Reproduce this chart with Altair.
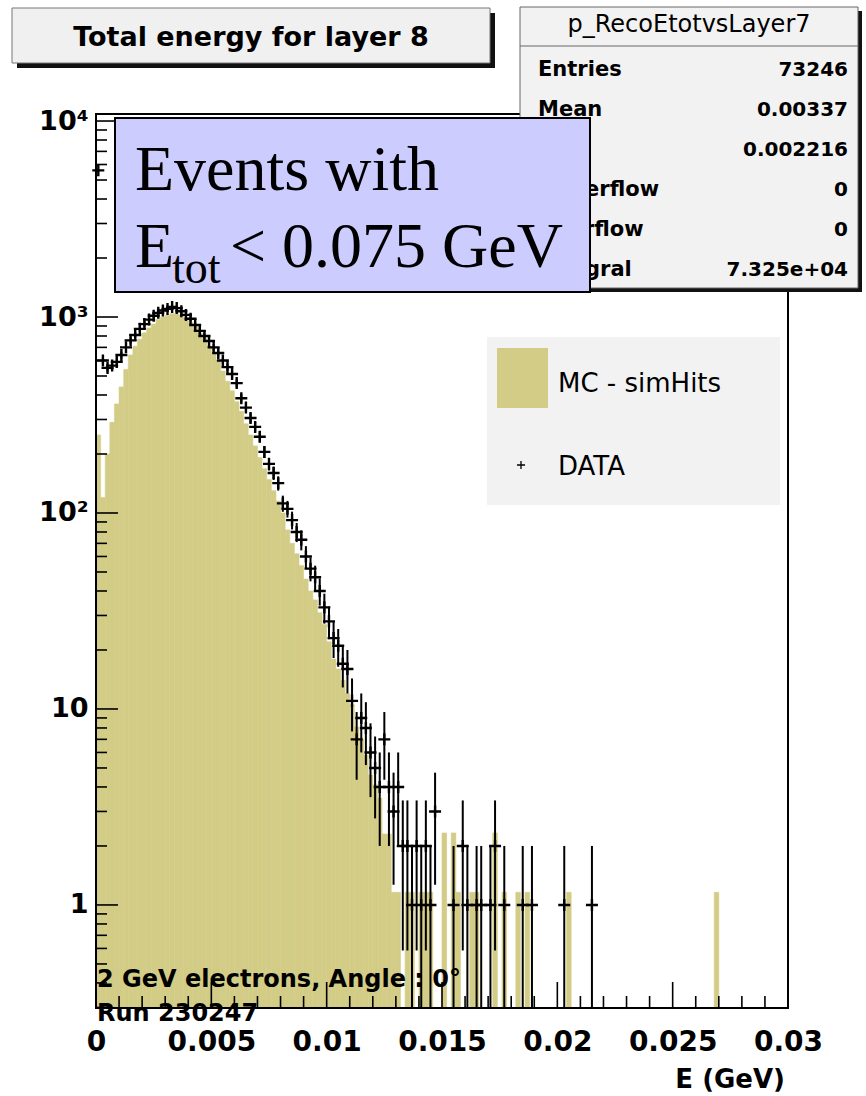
import altair as alt
import numpy as np
import pandas as pd

# ---------------- data ----------------
BIN_WIDTH = 0.0002  # GeV

# DATA counts per bin (bin i covers [i*BIN_WIDTH, (i+1)*BIN_WIDTH])
DATA_COUNTS = [
    5600, 600, 550, 565, 590, 640, 700, 760, 810, 870,
    920, 970, 1015, 1050, 1080, 1100, 1125, 1110, 1070, 1025,
    980, 910, 850, 800, 755, 700, 655, 600, 555, 512,
    460, 385, 345, 305, 275, 245, 205, 178, 160, 142,
    112, 105, 92, 80, 73, 60, 52, 47, 40, 33,
    28, 23, 21, 17, 16, 11, 7, 9, 8, 6,
    5, 4, 7, 4, 3, 4, 2, 2, 1, 2,
    1, 2, 1, 3, 0, 0, 0, 1, 0, 2,
    1, 0, 1, 1, 0, 1, 2, 0, 1, 0,
    0, 0, 1, 0, 1, 0, 0, 0, 0, 0,
    0, 1, 0, 0, 0, 0, 0, 1,
]

# MC (simHits) normalised bin contents
MC_VALUES = [
    250, 120, 200, 290, 360, 440, 540, 640, 710, 770,
    830, 880, 920, 970, 1000, 1020, 1040, 1035, 1015, 990,
    940, 890, 830, 775, 710, 650, 600, 530, 470, 420,
    370, 330, 285, 250, 220, 192, 168, 148, 130, 115,
    100, 82, 70, 62, 54, 46, 40, 36, 31, 27,
    22, 18, 16, 14, 12, 10.5, 8.1, 7.0, 5.8, 4.6,
    4.1, 3.5, 2.3, 2.3, 1.16, 1.16, 0, 1.16, 1.16, 0,
    1.16, 1.16, 1.16, 0, 0, 2.33, 0, 2.33, 1.16, 0,
    0, 1.16, 1.16, 0, 0, 0, 2.33, 0, 1.16, 0,
    0, 1.16, 0, 1.16, 0, 0, 0, 0, 0, 0,
    0, 0, 1.16, 0, 0, 0, 0, 0, 0, 0,
    0, 0, 0, 0, 0, 0, 0, 0, 0, 0,
    0, 0, 0, 0, 0, 0, 0, 0, 0, 0,
    0, 0, 0, 0, 1.16,
]

X_LABEL_VALUES = [0, 0.005, 0.01, 0.015, 0.02, 0.025, 0.03]
X_MINOR_TICKS = [0.001, 0.002, 0.003, 0.004, 0.006, 0.007, 0.008, 0.009,
                 0.011, 0.012, 0.013, 0.014, 0.016, 0.017, 0.018, 0.019,
                 0.021, 0.022, 0.023, 0.024, 0.026, 0.027, 0.028, 0.029]
Y_LABEL_VALUES = [1, 10, 100, 1000, 10000]
Y_MINOR_TICKS = [0.3, 0.4, 0.5, 0.6, 0.7, 0.8, 0.9,
                 2, 3, 4, 5, 6, 7, 8, 9,
                 20, 30, 40, 50, 60, 70, 80, 90,
                 200, 300, 400, 500, 600, 700, 800, 900,
                 2000, 3000, 4000, 5000, 6000, 7000, 8000, 9000]

STATS_NAME = "p_RecoEtotvsLayer7"
STATS_LABELS = ["Entries", "Mean", "RMS", "Underflow", "Overflow", "Integral"]
STATS_VALUES = ["73246", "0.00337", "0.002216", "0", "0", "7.325e+04"]

TITLE = "Total energy for layer 8"
X_TITLE = "E (GeV)"
NOTE_1 = "2 GeV electrons, Angle : 0\u00b0"
NOTE_2 = "Run 230247"
LEGEND_MC = "MC - simHits"
LEGEND_DATA = "DATA"

# ---------------- layout / style ----------------
W, H = 692, 894
YMIN, YMAX = 0.298, 10860
OLIVE = "#d3cc86"
SANS = "DejaVu Sans"
SERIF = "Liberation Serif"
CROSS = "M-1,0L1,0M0,-1L0,1"

mc = pd.DataFrame({"i": np.arange(len(MC_VALUES)), "v": MC_VALUES})
mc = mc[mc.v > 0].copy()
mc["lo"] = mc.i * BIN_WIDTH
mc["hi"] = (mc.i + 1) * BIN_WIDTH

dd = pd.DataFrame({"i": np.arange(len(DATA_COUNTS)), "v": DATA_COUNTS})
dd = dd[dd.v > 0].copy()
dd["c"] = (dd.i + 0.5) * BIN_WIDTH
dd["elo"] = np.maximum(dd.v - np.sqrt(dd.v), YMIN)
dd["ehi"] = dd.v + np.sqrt(dd.v)

XS = alt.Scale(domain=[0, 0.03], nice=False, zero=False)
YS = alt.Scale(type="log", domain=[YMIN, YMAX], nice=False)

X_AX = alt.Axis(values=X_LABEL_VALUES, format=".3~f", ticks=False, tickSize=0,
                domain=False, grid=False, labelFlush=False, labelFont=SANS,
                labelFontWeight="bold", labelFontSize=28, labelColor="black",
                labelPadding=20, title=None)
Y_AX = alt.Axis(values=Y_LABEL_VALUES, ticks=False, tickSize=0, domain=False, grid=False,
                labelFont=SANS, labelFontWeight="bold", labelFontSize=27,
                labelColor="black", labelPadding=8, title=None,
                labelExpr="datum.value > 5000 ? '10\u2074' : datum.value > 500 ? '10\u00b3' : datum.value > 50 ? '10\u00b2' : datum.value > 5 ? '10' : '1'")

ONE = pd.DataFrame({"k": [0]})


def box(x0, x1, y0, y1, fill, stroke=None, sw=0):
    kw = dict(fill=fill)
    if stroke:
        kw.update(stroke=stroke, strokeWidth=sw)
    else:
        kw.update(strokeWidth=0)
    return alt.Chart(ONE).mark_rect(**kw).encode(
        x=alt.value(x0), x2=alt.value(x1), y=alt.value(y0), y2=alt.value(y1))


def txt(s, x, y, size, weight="normal", align="left", font=SANS):
    return alt.Chart(ONE).mark_text(
        text=s, fontSize=size, fontWeight=weight, align=align,
        baseline="alphabetic", font=font, color="black").encode(
        x=alt.value(x), y=alt.value(y))


mc_layer = alt.Chart(mc).mark_rect(color=OLIVE, stroke=OLIVE, strokeWidth=0.6).encode(
    x=alt.X("lo:Q", scale=XS, axis=X_AX), x2="hi:Q",
    y=alt.Y("v:Q", scale=YS, axis=Y_AX), y2=alt.Y2(datum=YMIN))

err_layer = alt.Chart(dd).mark_rule(color="black", strokeWidth=2).encode(
    x=alt.X("c:Q", scale=XS, axis=X_AX),
    y=alt.Y("elo:Q", scale=YS, axis=Y_AX), y2="ehi:Q")

pts_layer = alt.Chart(dd).mark_point(shape=CROSS, filled=False, stroke="black",
                                     strokeWidth=2.4, size=144, opacity=1).encode(
    x=alt.X("c:Q", scale=XS, axis=X_AX),
    y=alt.Y("v:Q", scale=YS, axis=Y_AX))

frame = alt.Chart(ONE).mark_rect(fillOpacity=0, stroke="black", strokeWidth=2).encode(
    x=alt.value(0), x2=alt.value(W), y=alt.value(0), y2=alt.value(H))

ymaj = alt.Chart(pd.DataFrame({"t": Y_LABEL_VALUES})).mark_rule(color="black", strokeWidth=1.6).encode(
    y=alt.Y("t:Q", scale=YS, axis=Y_AX), x=alt.value(0), x2=alt.value(22))
ymin = alt.Chart(pd.DataFrame({"t": Y_MINOR_TICKS})).mark_rule(color="black", strokeWidth=1.6).encode(
    y=alt.Y("t:Q", scale=YS, axis=Y_AX), x=alt.value(0), x2=alt.value(11))
xmaj = alt.Chart(pd.DataFrame({"t": X_LABEL_VALUES})).mark_rule(color="black", strokeWidth=1.6).encode(
    x=alt.X("t:Q", scale=XS, axis=X_AX), y=alt.value(H), y2=alt.value(H - 26))
xmin = alt.Chart(pd.DataFrame({"t": X_MINOR_TICKS})).mark_rule(color="black", strokeWidth=1.6).encode(
    x=alt.X("t:Q", scale=XS, axis=X_AX), y=alt.value(H), y2=alt.value(H - 12))

# legend
legend = [
    box(391, 684, 223, 391, "#f2f2f2"),
    box(401, 452, 234, 294, OLIVE),
    txt(LEGEND_MC, 462, 278, 26),
    alt.Chart(ONE).mark_point(shape=CROSS, filled=False, stroke="black", strokeWidth=1.3,
                              size=64, opacity=1).encode(x=alt.value(425), y=alt.value(351)),
    txt(LEGEND_DATA, 462, 361, 26),
]

notes = [
    txt(NOTE_1, 1, 873, 24, "bold"),
    txt(NOTE_2, 1, 907, 24, "bold"),
    txt(X_TITLE, 689, 974, 26, "bold", align="right"),
]

title_box = [
    box(-79, 399, -101, -46, "#111111"),
    box(-84, 394, -106, -51, "#f0f0f0", "#777777", 1),
    txt(TITLE, 155, -68, 27, "bold", align="center"),
]

stats = [
    box(428, 766, -103, 178, "#111111"),
    box(424, 762, -107, 174, "#f2f2f2", "#666666", 1),
    alt.Chart(ONE).mark_rule(color="#666666", strokeWidth=1).encode(
        x=alt.value(424), x2=alt.value(762), y=alt.value(-68)),
    txt(STATS_NAME, 593, -82, 24, "normal", align="center"),
]
row_y = [-38, 2, 42, 82, 122, 162]
for lab, val, yy in zip(STATS_LABELS, STATS_VALUES, row_y):
    stats.append(txt(lab, 442, yy, 21, "bold"))
    stats.append(txt(val, 752, yy, 20, "bold", align="right"))

blue = [
    box(19, 494, 4, 178, "#ccccff", "black", 2),
    txt("Events with", 39, 76, 64, font=SERIF),
    txt("E", 39, 153, 64, font=SERIF),
    txt("tot", 76, 169, 46, font=SERIF),
    txt("< 0.075 GeV", 134, 153, 64, font=SERIF),
]

layers = [mc_layer, legend[0], err_layer, pts_layer, frame, ymaj, ymin, xmaj, xmin] \
    + legend[1:] + notes + title_box + stats + blue

chart = alt.layer(*layers).properties(
    width=W, height=H,
    autosize=alt.AutoSizeParams(type="none"),
    padding={"left": 96, "top": 114, "right": 78, "bottom": 88},
    background="white",
).configure_view(stroke=None)

chart.save("out.html", embed_options={"renderer": "svg", "actions": False})
